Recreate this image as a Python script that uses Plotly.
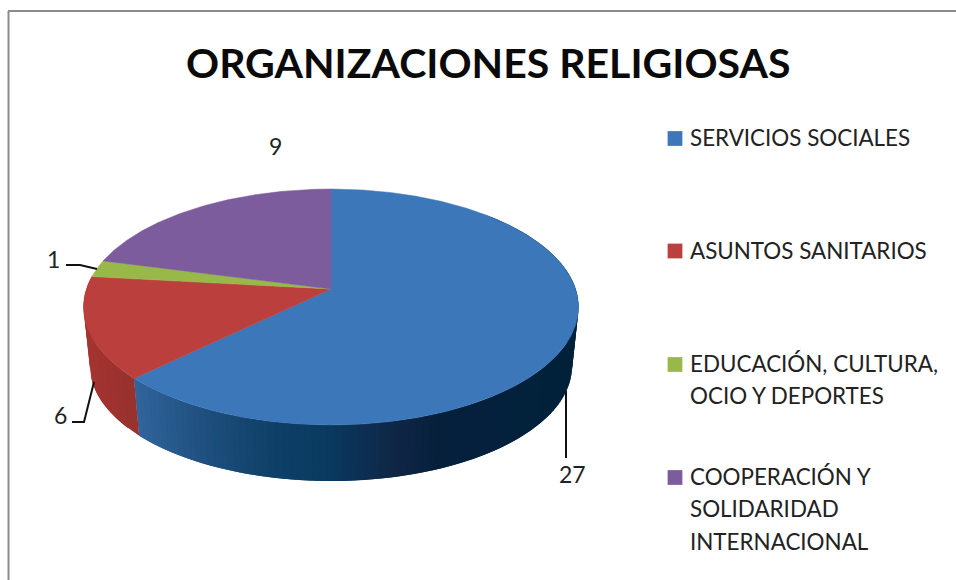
import numpy as np
import plotly.graph_objects as go

title = "ORGANIZACIONES RELIGIOSAS"
categories = ["SERVICIOS SOCIALES", "ASUNTOS SANITARIOS",
              "EDUCACIÓN, CULTURA,<br>OCIO Y DEPORTES",
              "COOPERACIÓN Y<br>SOLIDARIDAD<br>INTERNACIONAL"]
values = [27, 6, 1, 9]
colors = ["#3C78B9", "#BB403D", "#98B94A", "#7D5C9E"]
value_label_pos = [(572, 474), (60, 415), (53, 259), (275, 146)]
legend_y = [138.5, 251, 364.5, 477.5]
leaders = [([566, 566], [391, 458]),
           ([72, 84, 94], [422, 422, 382]),
           ([66, 80, 97], [265, 265, 269])]

# projection of the pie disc: apex on screen, perspective factor k
APEX_X, APEX_Y = 331.0, 289.0
A, B, K = 244.6, 115.2, 0.1525
SCALE_LOW, DROP_LOW = 0.974, 59.6
FONT = "Lato, Carlito, Calibri, sans-serif"


def rim(theta_deg, low=False):
    t = np.radians(theta_deg)
    u, v = np.sin(t), np.cos(t)
    d = 1 + K * v
    x, y = A * u / d, -B * v / d
    if low:
        return APEX_X + SCALE_LOW * x, APEX_Y + SCALE_LOW * y + DROP_LOW
    return APEX_X + x, APEX_Y + y


def side_color(x, stops):
    xs = [s[0] for s in stops]
    r = np.interp(x, xs, [s[1][0] for s in stops])
    g = np.interp(x, xs, [s[1][1] for s in stops])
    b = np.interp(x, xs, [s[1][2] for s in stops])
    return f"rgb({r:.0f},{g:.0f},{b:.0f})"


BLUE_STOPS = [(135, (48, 100, 155)), (200, (31, 80, 128)), (270, (14, 64, 104)),
              (325, (10, 58, 96)), (400, (15, 37, 69)), (440, (6, 32, 60)),
              (580, (0, 33, 59))]
RED_STOPS = [(85, (165, 52, 48)), (140, (150, 48, 46))]

fracs = np.cumsum([0] + values) / sum(values) * 360
fig = go.Figure()


def poly(xs, ys, color, width=0.0, name=None):
    fig.add_trace(go.Scatter(x=xs, y=ys, mode="lines", fill="toself", fillcolor=color,
                             line=dict(color=color, width=width), hoverinfo="skip",
                             showlegend=False, name=name))


# side wall: shaded strips, each running under the next one so no seams show
for stops, a0, a1, n in [(BLUE_STOPS, 45, fracs[1], 120),
                         (RED_STOPS, fracs[1], fracs[2], 12)]:
    edges = np.linspace(a0, a1, n + 1)
    step = edges[1] - edges[0]
    for t0, t1 in zip(edges[:-1], edges[1:]):
        t_end = min(t1 + step, a1)
        mid = np.linspace(t0, t_end, 4)
        xt, yt = rim(mid)
        xb, yb = rim(mid[::-1], True)
        poly(np.r_[xt, xb, xt[0]], np.r_[yt, yb, yt[0]],
             side_color(float(rim((t0 + t1) / 2)[0]), stops))

# top face of each slice
for i, col in enumerate(colors):
    th = np.linspace(fracs[i], fracs[i + 1], max(3, int(fracs[i + 1] - fracs[i]) * 2))
    xs, ys = rim(th)
    poly(np.r_[APEX_X, xs, APEX_X], np.r_[APEX_Y, ys, APEX_Y], col, 0.5, categories[i])

# leader lines
for lx, ly in leaders:
    fig.add_trace(go.Scatter(x=lx, y=ly, mode="lines", line=dict(color="#111111", width=2),
                             hoverinfo="skip", showlegend=False))

# legend squares
fig.add_trace(go.Scatter(x=[675] * 4, y=legend_y, mode="markers",
                         marker=dict(symbol="square", size=15, color=colors,
                                     line=dict(color="rgba(255,255,255,0.5)", width=0.5)),
                         hoverinfo="skip", showlegend=False))

ann = [dict(x=488, y=62, text=f"<b>{title}</b>", showarrow=False, xanchor="center", yanchor="middle",
            font=dict(family=FONT, size=41, color="#0a0a0a"))]
for v, (px, py) in zip(values, value_label_pos):
    ann.append(dict(x=px, y=py, text=str(v), showarrow=False, xanchor="center", yanchor="middle",
                    font=dict(family=FONT, size=23, color="#222222")))
for cat, ly in zip(categories, legend_y):
    for j, line in enumerate(cat.split("<br>")):
        ann.append(dict(x=688, y=ly - 1 + j * 32.3, text=line, showarrow=False, xanchor="left", yanchor="middle",
                        font=dict(family=FONT, size=22.4, color="#222222")))

fig.update_layout(
    width=956, height=580, autosize=False,
    margin=dict(l=0, r=0, t=0, b=0), paper_bgcolor="white", plot_bgcolor="white",
    xaxis=dict(range=[0, 956], visible=False, fixedrange=True),
    yaxis=dict(range=[580, 0], visible=False, fixedrange=True),
    annotations=ann,
    shapes=[dict(type="line", x0=8.5, x1=8.5, y0=11, y1=580, line=dict(color="#8c8c8c", width=2)),
            dict(type="line", x0=8, x1=956, y0=11, y1=11, line=dict(color="#8c8c8c", width=2))],
)
fig.write_html("out.html", config={"displayModeBar": False},
               post_script="document.body.style.margin='0';document.body.style.overflow='hidden';")
